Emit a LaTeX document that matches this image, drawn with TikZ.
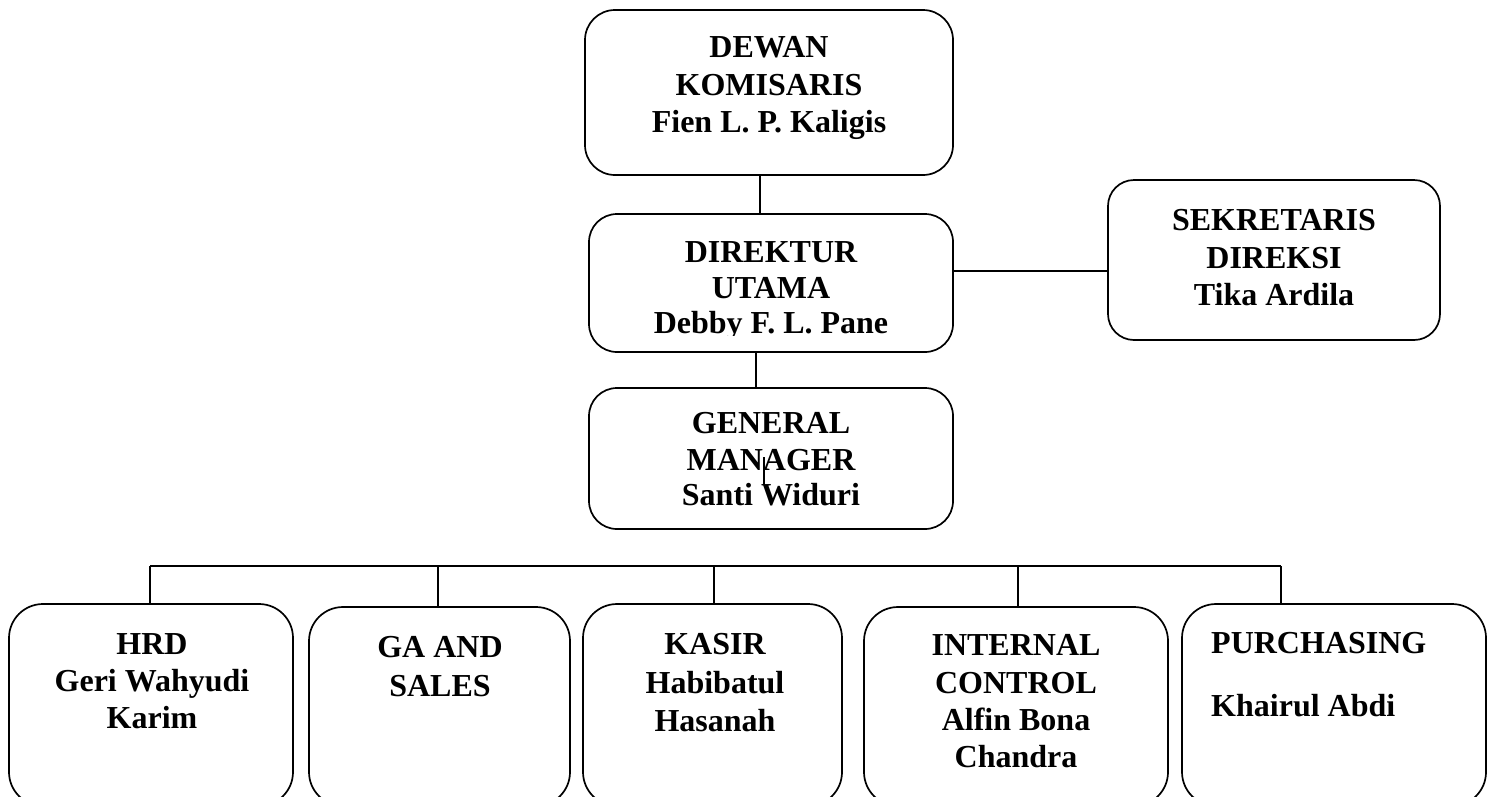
\documentclass[tikz,border=0pt]{standalone}
\usepackage{fontspec}
\setmainfont{Liberation Serif}
\begin{document}
\begin{tikzpicture}[x=1pt,y=-1pt,
  box/.style={draw, line width=1.7pt, rounded corners=#1, inner sep=0pt, outer sep=0pt},
  box/.default=30pt,
  conn/.style={line width=1.4pt},
  t/.style={font=\fontsize{32}{37}\selectfont\bfseries, inner sep=0pt, anchor=base},
  tl/.style={t, anchor=base west}]
\useasboundingbox (0,0) rectangle (1493,796);
\clip (0,0) rectangle (1493,796);
% boxes
\node[box=30pt, minimum width=368pt, minimum height=165pt] (dk) at (769,92.5) {};
\node[box=28pt, minimum width=364pt, minimum height=138pt] (du) at (771,283) {};
\node[box=28pt, minimum width=364pt, minimum height=141pt] (gm) at (771,458.5) {};
\node[box=26pt, minimum width=332pt, minimum height=160pt] (sd) at (1274,260) {};
\node[box=34pt, minimum width=284pt, minimum height=202pt] (hrd) at (151,705) {};
\node[box=34pt, minimum width=261pt, minimum height=199pt] (ga) at (439.5,706.5) {};
\node[box=34pt, minimum width=259pt, minimum height=202pt] (ks) at (712.5,705) {};
\node[box=34pt, minimum width=304pt, minimum height=199pt] (ic) at (1016,706.5) {};
\node[box=34pt, minimum width=304pt, minimum height=202pt] (pu) at (1334,705) {};
% helper coordinates
\coordinate (x1) at (760,0);
\coordinate (x2) at (756,0);
\coordinate (y1) at (0,271);
\coordinate (b1) at (150,566);
\coordinate (b2) at (438,566);
\coordinate (b3) at (714,566);
\coordinate (b4) at (1018,566);
\coordinate (b5) at (1281,566);
\coordinate (g1) at (764,457);
\coordinate (g2) at (764,485);
% connectors
\draw[conn] (dk.south -| x1) -- (du.north -| x1);
\draw[conn] (du.south -| x2) -- (gm.north -| x2);
\draw[conn] (du.east |- y1) -- (sd.west |- y1);
\draw[conn] (g1) -- (g2);
\draw[conn] (b1) -- (b5);
\draw[conn] (b1) -- (hrd.north -| b1);
\draw[conn] (b2) -- (ga.north -| b2);
\draw[conn] (b3) -- (ks.north -| b3);
\draw[conn] (b4) -- (ic.north -| b4);
\draw[conn] (b5) -- (pu.north -| b5);
% texts
\node[t] (dk1) at (769,57) {DEWAN};
\node[t] (dk2) at (769,95) {KOMISARIS};
\node[t] (dk3) at (769,132) {Fien L. P. Kaligis};
\node[t] (du1) at (771,262) {DIREKTUR};
\node[t] (du2) at (771,298) {UTAMA};
\begin{scope}
\clip (600,300) rectangle (940,335.5);
\node[t] (du3) at (771,333) {Debby F. L. Pane};
\end{scope}
\node[t] (gm1) at (771,433) {GENERAL};
\node[t] (gm2) at (771,470) {MANAGER};
\node[t] (gm3) at (771,505) {Santi Widuri};
\node[t] (sd1) at (1274,230) {SEKRETARIS};
\node[t] (sd2) at (1274,268) {DIREKSI};
\node[t] (sd3) at (1274,305) {Tika Ardila};
\node[t] (hr1) at (152,654) {HRD};
\node[t] (hr2) at (152,691) {Geri Wahyudi};
\node[t] (hr3) at (152,728) {Karim};
\node[t] (ga1) at (440,657) {GA AND};
\node[t] (ga2) at (440,696) {SALES};
\node[t] (ks1) at (715,654) {KASIR};
\node[t] (ks2) at (715,693) {Habibatul};
\node[t] (ks3) at (715,731) {Hasanah};
\node[t] (ic1) at (1016,655) {INTERNAL};
\node[t] (ic2) at (1016,693) {CONTROL};
\node[t] (ic3) at (1016,730) {Alfin Bona};
\node[t] (ic4) at (1016,767) {Chandra};
\node[tl] (pu1) at (1211,653) {PURCHASING};
\node[tl] (pu2) at (1211,716) {Khairul Abdi};
\end{tikzpicture}
\end{document}
